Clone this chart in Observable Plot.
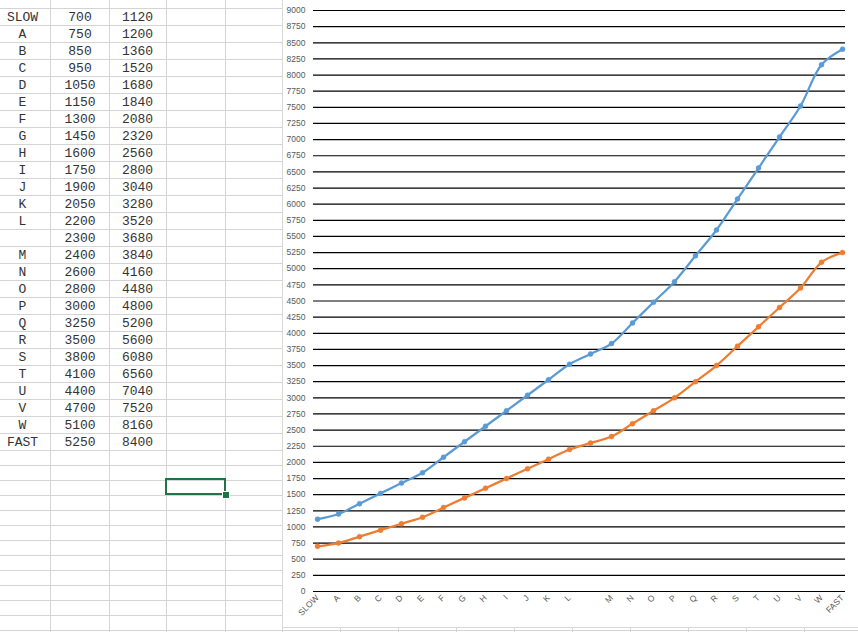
<!DOCTYPE html>
<html>
<head>
<meta charset="utf-8">
<script src="https://cdn.jsdelivr.net/npm/d3@7"></script>
<script src="https://cdn.jsdelivr.net/npm/@observablehq/plot@0.6"></script>
<style>
  html, body { margin: 0; padding: 0; background: #fff; }
  #page { position: relative; width: 858px; height: 632px; overflow: hidden; background: #fff; }
  .hl { position: absolute; left: 0; width: 858px; height: 1px; background: #d4d4d4; }
  .vl { position: absolute; top: 0; width: 1px; height: 632px; background: #d4d4d4; }
  .cell { position: absolute; font-family: "Liberation Mono", monospace; font-size: 13px; color: #333;
          text-align: center; line-height: 17px; height: 17px; white-space: pre; }
  #chart { position: absolute; left: 282px; top: 0; width: 576px; height: 627px; background: #fff; }
  #chartBorder { position: absolute; left: 282px; top: -1px; width: 580px; height: 629px;
                 border: 1px solid #d9d9d9; box-sizing: border-box; pointer-events: none; }
  #sel { position: absolute; left: 165px; top: 478px; width: 61px; height: 17px;
         border: 2px solid #217346; box-sizing: border-box; }
  #handle { position: absolute; left: 222px; top: 491px; width: 6px; height: 6px; background: #217346;
            border: 1px solid #fff; box-sizing: content-box; }
</style>
</head>
<body>
<div id="page">
  <div id="sheet"></div>
  <div id="sel"></div>
  <div id="handle"></div>
  <div id="chart"></div>
  <div id="chartBorder"></div>
</div>
<script>
// ---- data ----
const categories = ["SLOW","A","B","C","D","E","F","G","H","I","J","K","L","","M","N","O","P","Q","R","S","T","U","V","W","FAST"];
const slowValues = [700,750,850,950,1050,1150,1300,1450,1600,1750,1900,2050,2200,2300,2400,2600,2800,3000,3250,3500,3800,4100,4400,4700,5100,5250];
const fastValues = [1120,1200,1360,1520,1680,1840,2080,2320,2560,2800,3040,3280,3520,3680,3840,4160,4480,4800,5200,5600,6080,6560,7040,7520,8160,8400];
const yTicks = [0,250,500,750,1000,1250,1500,1750,2000,2250,2500,2750,3000,3250,3500,3750,4000,4250,4500,4750,5000,5250,5500,5750,6000,6250,6500,6750,7000,7250,7500,7750,8000,8250,8500,8750,9000];

const blueColor = "#5B9BD5";
const orangeColor = "#ED7D31";

// ---- spreadsheet backdrop ----
const sheet = document.getElementById("sheet");
const colEdges = [50,109,166,225,282,340,398,456,514,572,630,688,746,804];
const rowEdges = [];
for (let i = 0; i <= categories.length; i++) rowEdges.push(8 + i * 17);
let y = rowEdges[rowEdges.length - 1];
while (y < 640) { y += 15; rowEdges.push(y); }
rowEdges.forEach(t => { const d = document.createElement("div"); d.className = "hl"; d.style.top = t + "px"; sheet.appendChild(d); });
colEdges.forEach(l => { const d = document.createElement("div"); d.className = "vl"; d.style.left = l + "px"; sheet.appendChild(d); });
const cellCols = [[-5, 55], [51, 58], [109, 57]];
categories.forEach((c, i) => {
  const top = 8 + i * 17 + 1;
  [c, String(slowValues[i]), String(fastValues[i])].forEach((txt, j) => {
    const d = document.createElement("div");
    d.className = "cell";
    d.style.left = cellCols[j][0] + "px";
    d.style.width = cellCols[j][1] + "px";
    d.style.top = top + "px";
    d.textContent = txt;
    sheet.appendChild(d);
  });
});

// ---- chart ----
const rows = categories.map((c, i) => ({cat: c, slow: slowValues[i], fast: fastValues[i]}));

const chart = Plot.plot({
  width: 576,
  height: 627,
  marginLeft: 31,
  marginRight: 13,
  marginTop: 10,
  marginBottom: 36,
  style: {fontFamily: "Liberation Sans, Arial, sans-serif", fontSize: "8.5px", color: "#595959", background: "#fff"},
  x: {type: "point", domain: categories, padding: 0, label: null},
  y: {domain: [0, 9000], label: null},
  marks: [
    Plot.ruleY(yTicks, {stroke: "#000", strokeWidth: 1.2}),
    Plot.axisY({ticks: yTicks, tickFormat: d3.format("d"), tickSize: 0, tickPadding: 8, label: null, fill: "#595959"}),
    Plot.axisX({tickSize: 0, tickPadding: 5, tickRotate: -45, label: null, fill: "#595959"}),
    Plot.line(rows, {x: "cat", y: "slow", stroke: orangeColor, strokeWidth: 2.25, curve: "catmull-rom"}),
    Plot.dot(rows, {x: "cat", y: "slow", r: 2.5, fill: orangeColor, stroke: orangeColor, strokeWidth: 0.5}),
    Plot.line(rows, {x: "cat", y: "fast", stroke: blueColor, strokeWidth: 2.25, curve: "catmull-rom"}),
    Plot.dot(rows, {x: "cat", y: "fast", r: 2.5, fill: blueColor, stroke: blueColor, strokeWidth: 0.5})
  ]
});
document.getElementById("chart").appendChild(chart);
</script>
</body>
</html>
